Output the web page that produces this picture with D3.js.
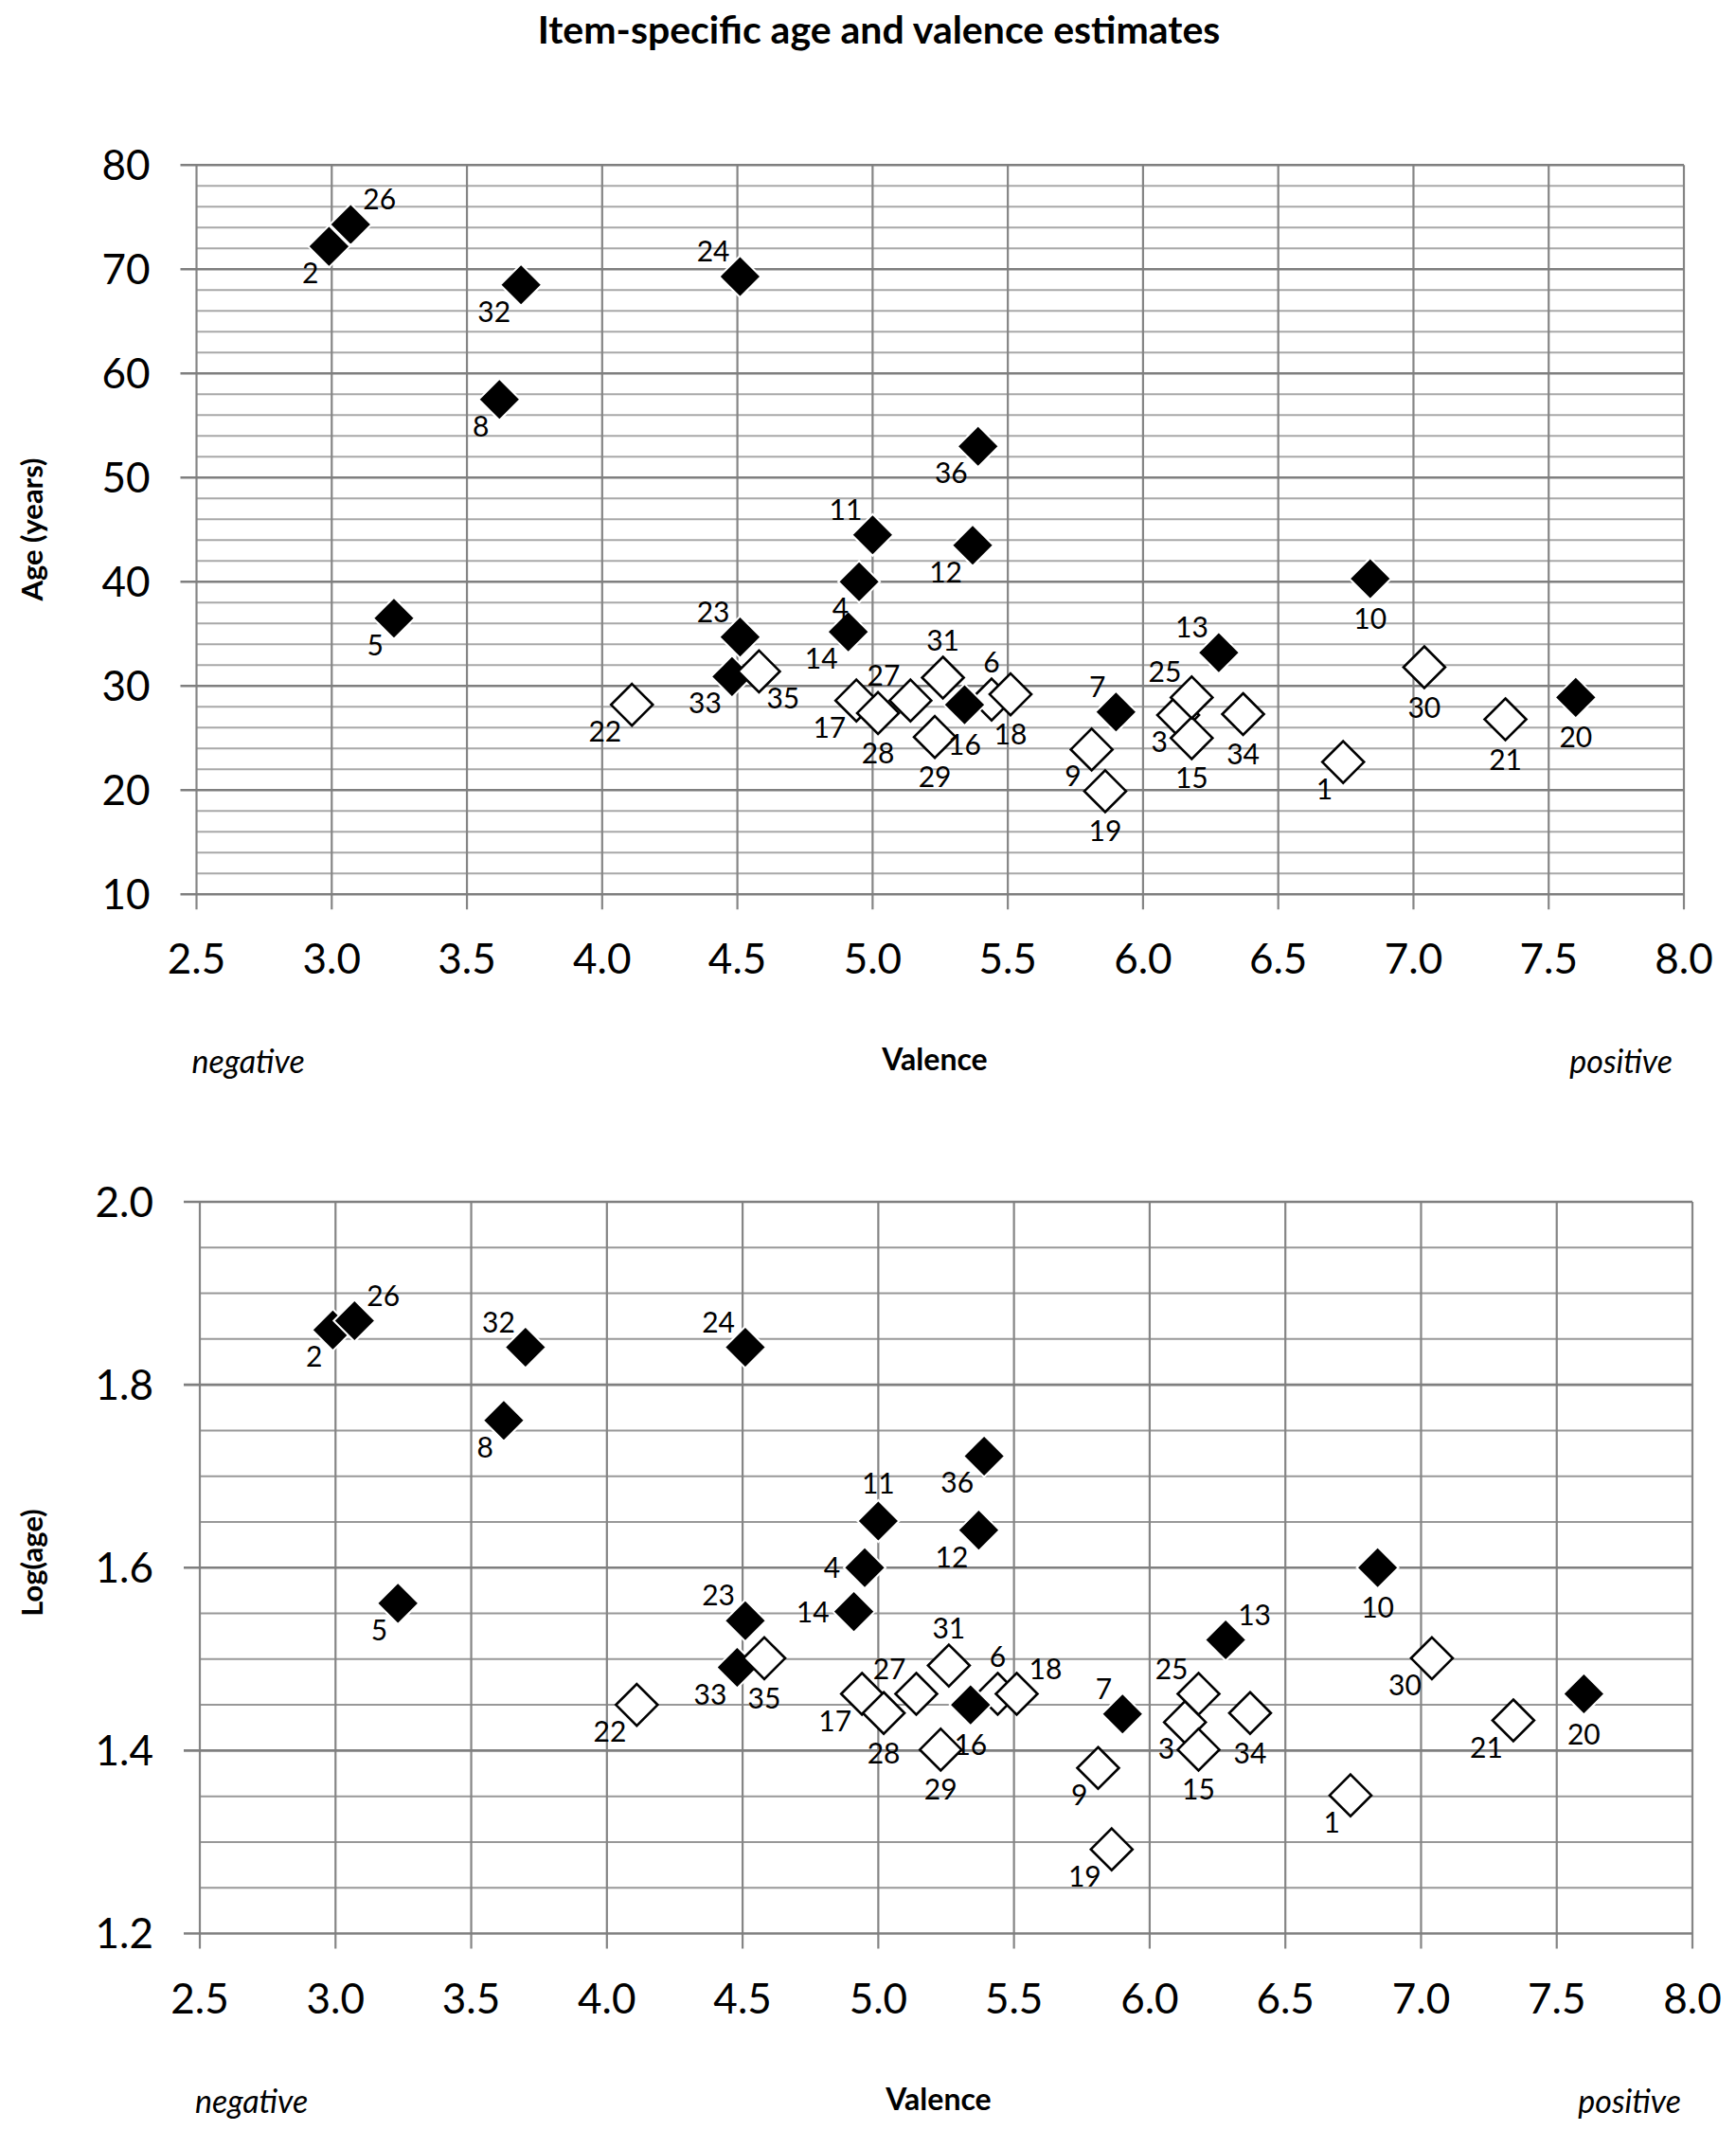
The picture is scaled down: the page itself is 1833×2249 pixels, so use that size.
<!DOCTYPE html>
<html>
<head>
<meta charset="utf-8">
<script src="https://cdn.jsdelivr.net/npm/d3@7"></script>
<style>
  body { margin: 0; background: #fff; }
  text { font-family: Lato, "Open Sans", sans-serif; fill: #000; }
</style>
</head>
<body>
<div id="chart"></div>
<script>
// item numbers and their estimates
const items = [1, 2, 3, 4, 5, 6, 7, 8, 9, 10, 11, 12, 13, 14, 15, 16, 17, 18,
               19, 20, 21, 22, 23, 24, 25, 26, 27, 28, 29, 30, 31, 32, 33, 34, 35, 36];
const valence = [6.74, 2.99, 6.13, 4.95, 3.23, 5.44, 5.90, 3.62, 5.81, 6.84, 5.00, 5.37,
                 6.28, 4.91, 6.18, 5.34, 4.94, 5.51, 5.86, 7.60, 7.34, 4.11, 4.51, 4.51,
                 6.18, 3.07, 5.14, 5.02, 5.23, 7.04, 5.26, 3.70, 4.48, 6.37, 4.58, 5.39];
const age = [22.7, 72.2, 27.2, 40.0, 36.5, 28.7, 27.5, 57.5, 23.9, 40.3, 44.5, 43.5,
             33.2, 35.2, 25.0, 28.2, 28.6, 29.2, 19.9, 28.9, 26.8, 28.2, 34.7, 69.3,
             28.9, 74.3, 28.6, 27.4, 25.1, 31.8, 30.8, 68.5, 30.9, 27.3, 31.4, 53.0];
const logAge = [1.351, 1.860, 1.431, 1.600, 1.561, 1.462, 1.440, 1.761, 1.381, 1.600, 1.651, 1.641,
                1.521, 1.552, 1.401, 1.450, 1.462, 1.462, 1.292, 1.462, 1.433, 1.450, 1.542, 1.841,
                1.462, 1.870, 1.462, 1.441, 1.401, 1.501, 1.493, 1.841, 1.491, 1.441, 1.501, 1.722];
// 1 = black diamond, 0 = open diamond
const filled = [0, 1, 0, 1, 1, 0, 1, 1, 0, 1, 1, 1, 1, 1, 0, 1, 0, 0,
                0, 1, 0, 0, 1, 1, 0, 1, 0, 0, 0, 0, 0, 1, 1, 0, 0, 1];

const xTicks = [2.5, 3.0, 3.5, 4.0, 4.5, 5.0, 5.5, 6.0, 6.5, 7.0, 7.5, 8.0];
const ageTicks = [10, 20, 30, 40, 50, 60, 70, 80];
const logTicks = [1.2, 1.4, 1.6, 1.8, 2.0];

// where each point's number sits (same order as items)
const ageLabelPos = ["bl", "bl", "bl", "bl", "bl", "t", "tl", "bl", "bl", "b", "tl", "bl",
                     "tl", "bl", "b", "b", "bl", "b", "b", "b", "b", "bl", "tl", "tl",
                     "tl", "tr", "tl", "b", "b", "b", "t", "bl", "bl", "b", "br", "bl"];
const logLabelPos = ["bl", "bl", "bl", "l", "bl", "t", "tl", "bl", "bl", "b", "t", "bl",
                     "tr", "l", "b", "b", "bl", "tr", "bl", "b", "bl", "bl", "tl", "tl",
                     "tl", "tr", "tl", "b", "b", "bl", "t", "tl", "bl", "b", "b", "bl"];

const W = 1833, H = 2249;

const offsets = {
  tl: {dx: -11, dy: -16, anchor: "end"},
  bl: {dx: -11, dy: 39, anchor: "end"},
  tr: {dx: 13, dy: -16, anchor: "start"},
  br: {dx: 8, dy: 39, anchor: "start"},
  t:  {dx: 0, dy: -29, anchor: "middle"},
  b:  {dx: 0, dy: 53, anchor: "middle"},
  l:  {dx: -26, dy: 11, anchor: "end"}
};

let svg = d3.select("#chart").append("svg")
    .attr("width", W)
    .attr("height", H);

svg.append("text")
    .attr("x", 928)
    .attr("y", 46)
    .attr("text-anchor", "middle")
    .style("font-weight", "bold")
    .style("font-size", "41px")
    .text("Item-specific age and valence estimates");

function diamond(r) {
    return "M0," + (-r) + "L" + r + ",0L0," + r + "L" + (-r) + ",0Z";
}

function drawPanel(p) {
    let x = d3.scaleLinear().domain([2.5, 8.0]).range([p.left, p.right]);
    let y = d3.scaleLinear().domain(p.yDomain).range([p.bottom, p.top]);

    let g = svg.append("g");

    // minor horizontal gridlines
    let minors = d3.range(p.yDomain[0], p.yDomain[1], p.minorStep)
        .filter(v => !p.yTicks.some(t => Math.abs(t - v) < 1e-9));
    g.selectAll(".minor").data(minors).enter().append("line")
        .attr("x1", p.left).attr("x2", p.right)
        .attr("y1", d => y(d)).attr("y2", d => y(d))
        .style("stroke", p.minorColor)
        .style("stroke-width", 2);

    // vertical gridlines, running down into tick marks
    g.selectAll(".vgrid").data(xTicks).enter().append("line")
        .attr("x1", d => x(d)).attr("x2", d => x(d))
        .attr("y1", p.top).attr("y2", p.bottom + 16)
        .style("stroke", "#858585")
        .style("stroke-width", 2.2);

    // major horizontal gridlines, running left into tick marks
    g.selectAll(".hgrid").data(p.yTicks).enter().append("line")
        .attr("x1", p.left - 17).attr("x2", p.right)
        .attr("y1", d => y(d)).attr("y2", d => y(d))
        .style("stroke", "#7f7f7f")
        .style("stroke-width", 2.6);

    // tick labels
    g.selectAll(".ylab").data(p.yTicks).enter().append("text")
        .attr("x", p.left - 49)
        .attr("y", d => y(d) + 15.5)
        .attr("text-anchor", "end")
        .style("font-size", "44px")
        .text(p.yFormat);

    g.selectAll(".xlab").data(xTicks).enter().append("text")
        .attr("x", d => x(d))
        .attr("y", p.bottom + 84)
        .attr("text-anchor", "middle")
        .style("font-size", "44px")
        .text(d3.format(".1f"));

    // axis titles
    g.append("text")
        .attr("transform", "translate(45," + p.yTitleY + ") rotate(-90)")
        .attr("text-anchor", "middle")
        .style("font-weight", "bold")
        .style("font-size", "31px")
        .text(p.yTitle);

    g.append("text")
        .attr("x", p.xTitleX)
        .attr("y", p.bottom + 186)
        .attr("text-anchor", "middle")
        .style("font-weight", "bold")
        .style("font-size", "32px")
        .text("Valence");

    g.append("text")
        .attr("x", p.left - 5)
        .attr("y", p.bottom + 189)
        .style("font-style", "italic")
        .style("font-size", "34px")
        .text("negative");

    g.append("text")
        .attr("x", p.right - 12)
        .attr("y", p.bottom + 189)
        .attr("text-anchor", "end")
        .style("font-style", "italic")
        .style("font-size", "34px")
        .text("positive");

    // points in item order, so later items overlap earlier ones
    let data = items.map((id, i) => ({
        id: id,
        x: valence[i],
        y: p.values[i],
        filled: filled[i],
        pos: offsets[p.labelPos[i]]
    }));

    g.selectAll(".pt").data(data).enter().append("path")
        .attr("d", diamond(22))
        .attr("transform", d => "translate(" + x(d.x) + "," + y(d.y) + ")")
        .style("fill", d => d.filled ? "#000" : "#fff")
        .style("stroke", d => d.filled ? "#fff" : "#000")
        .style("stroke-width", d => d.filled ? 2 : 2.6);

    g.selectAll(".ptlab").data(data).enter().append("text")
        .attr("x", d => x(d.x) + d.pos.dx)
        .attr("y", d => y(d.y) + d.pos.dy)
        .attr("text-anchor", d => d.pos.anchor)
        .style("font-size", "30px")
        .text(d => d.id);
}

drawPanel({
    left: 207.5, right: 1778, top: 174.3, bottom: 944.3,
    yDomain: [10, 80], yTicks: ageTicks, minorStep: 2,
    minorColor: "#a8a8a8",
    yFormat: d3.format("d"),
    values: age, labelPos: ageLabelPos,
    yTitle: "Age (years)", yTitleY: 559, xTitleX: 987
});

drawPanel({
    left: 211, right: 1787, top: 1269, bottom: 2041.5,
    yDomain: [1.2, 2.0], yTicks: logTicks, minorStep: 0.05,
    minorColor: "#989898",
    yFormat: d3.format(".1f"),
    values: logAge, labelPos: logLabelPos,
    yTitle: "Log(age)", yTitleY: 1650, xTitleX: 991
});
</script>
</body>
</html>
